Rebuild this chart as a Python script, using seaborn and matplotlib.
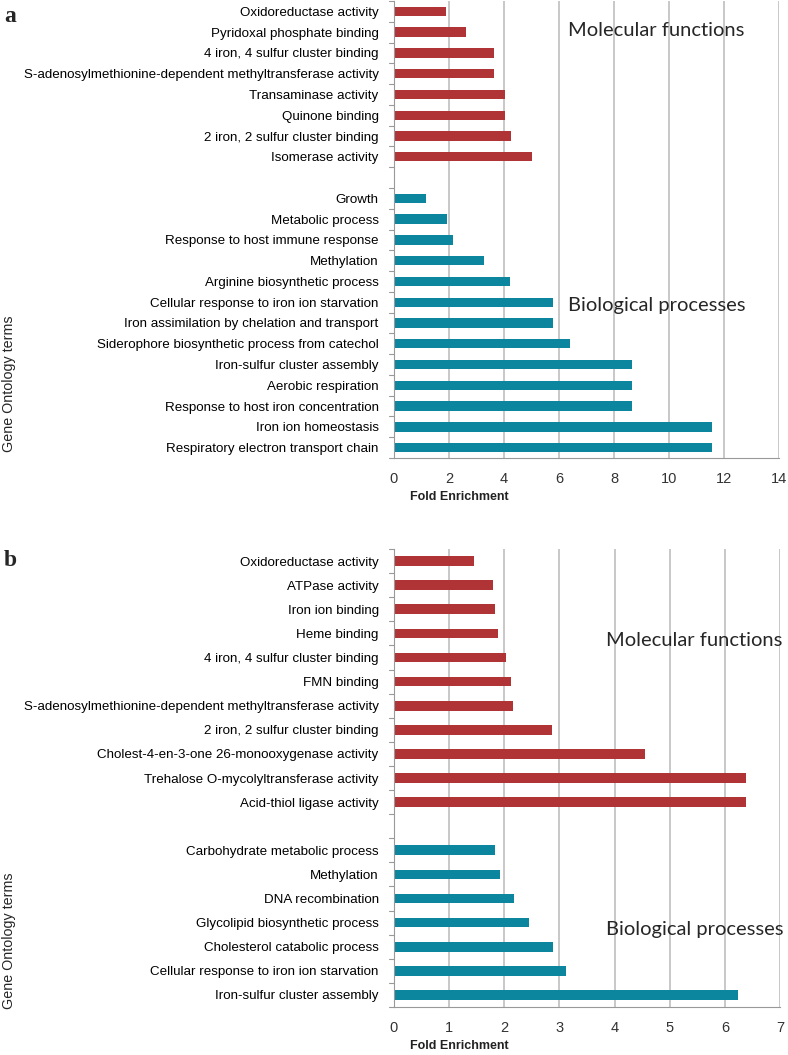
import pandas as pd
import matplotlib
matplotlib.use("Agg")
import matplotlib.pyplot as plt
import seaborn as sns

# Panel a data (top to bottom)
mf_a_terms = ["Oxidoreductase activity", "Pyridoxal phosphate binding",
              "4 iron, 4 sulfur cluster binding",
              "S-adenosylmethionine-dependent methyltransferase activity",
              "Transaminase activity", "Quinone binding",
              "2 iron, 2 sulfur cluster binding", "Isomerase activity"]
mf_a_vals = [1.88, 2.6, 3.62, 3.64, 4.05, 4.05, 4.27, 5.02]
bp_a_terms = ["Growth", "Metabolic process", "Response to host immune response",
              "Methylation", "Arginine biosynthetic process",
              "Cellular response to iron ion starvation",
              "Iron assimilation by chelation and transport",
              "Siderophore biosynthetic process from catechol",
              "Iron-sulfur cluster assembly", "Aerobic respiration",
              "Response to host iron concentration", "Iron ion homeostasis",
              "Respiratory electron transport chain"]
bp_a_vals = [1.15, 1.91, 2.15, 3.28, 4.2, 5.78, 5.78, 6.41, 8.67, 8.67, 8.67, 11.55, 11.55]

# Panel b data (top to bottom)
mf_b_terms = ["Oxidoreductase activity", "ATPase activity", "Iron ion binding",
              "Heme binding", "4 iron, 4 sulfur cluster binding", "FMN binding",
              "S-adenosylmethionine-dependent methyltransferase activity",
              "2 iron, 2 sulfur cluster binding",
              "Cholest-4-en-3-one 26-monooxygenase activity",
              "Trehalose O-mycolyltransferase activity", "Acid-thiol ligase activity"]
mf_b_vals = [1.45, 1.79, 1.84, 1.89, 2.03, 2.13, 2.16, 2.87, 4.56, 6.39, 6.39]
bp_b_terms = ["Carbohydrate metabolic process", "Methylation", "DNA recombination",
              "Glycolipid biosynthetic process", "Cholesterol catabolic process",
              "Cellular response to iron ion starvation", "Iron-sulfur cluster assembly"]
bp_b_vals = [1.83, 1.93, 2.18, 2.44, 2.88, 3.12, 6.23]

RED = "#B03436"
TEAL = "#0C859F"
GRID = "#BFBFBF"

sns.set_style("white")
plt.rcParams["font.family"] = ["Liberation Sans", "DejaVu Sans"]


def make_df(mf_terms, mf_vals, bp_terms, bp_vals):
    # unique keys so repeated term names in one panel stay separate
    rows = []
    for i, (t, v) in enumerate(zip(mf_terms, mf_vals)):
        rows.append({"key": f"mf{i}", "term": t, "value": v, "group": "Molecular functions"})
    for i, (t, v) in enumerate(zip(bp_terms, bp_vals)):
        rows.append({"key": f"bp{i}", "term": t, "value": v, "group": "Biological processes"})
    df = pd.DataFrame(rows)
    order = [f"mf{i}" for i in range(len(mf_terms))] + ["gap"] + \
            [f"bp{i}" for i in range(len(bp_terms))]
    labels = list(mf_terms) + [""] + list(bp_terms)
    return df, order, labels


def draw(ax, df, order, labels, xmax, xstep, width):
    sns.barplot(data=df, y="key", x="value", hue="group", order=order,
                palette={"Molecular functions": RED, "Biological processes": TEAL},
                orient="h", width=width, dodge=False, legend=False, ax=ax,
                saturation=1, edgecolor=None, linewidth=0)
    ax.set_yticks(range(len(order)))
    ax.set_yticklabels(labels, fontsize=9.6)
    ax.set_ylim(len(order) - 0.5, -0.5)
    ax.set_xlim(0, xmax)
    ax.set_xticks(range(0, xmax + 1, xstep))
    ax.tick_params(axis="x", labelsize=10.5, colors="#333333", length=4,
                   color="#999999", pad=6)
    ax.tick_params(axis="y", length=0, pad=11, labelcolor="black")
    # category boundary ticks on the left
    for b in range(len(order) + 1):
        ax.plot([-0.013, 0], [b - 0.5, b - 0.5], transform=ax.get_yaxis_transform(),
                color="#999999", lw=0.8, clip_on=False)
    ax.xaxis.grid(True, color=GRID, lw=1.2)
    ax.set_axisbelow(True)
    for s in ["top", "right"]:
        ax.spines[s].set_visible(False)
    ax.spines["left"].set_color("#999999")
    ax.spines["bottom"].set_color("#999999")
    ax.set_xlabel("")
    ax.set_ylabel("")


fig = plt.figure(figsize=(7.88, 10.55), dpi=100)
H = 1055.0
W = 788.0

ax_a = fig.add_axes([394 / W, 1 - 458 / H, (779 - 394) / W, (458 - 1) / H])
df_a, order_a, labels_a = make_df(mf_a_terms, mf_a_vals, bp_a_terms, bp_a_vals)
draw(ax_a, df_a, order_a, labels_a, 14, 2, 0.45)

ax_b = fig.add_axes([394 / W, 1 - 1007 / H, (780 - 394) / W, (1007 - 549) / H])
df_b, order_b, labels_b = make_df(mf_b_terms, mf_b_vals, bp_b_terms, bp_b_vals)
draw(ax_b, df_b, order_b, labels_b, 7, 1, 0.4)

gfont = ["Lato", "DejaVu Sans"]
fig.text(568 / W, 1 - 31 / H, "Molecular functions", fontsize=14.5, family=gfont, va="center")
fig.text(568 / W, 1 - 305 / H, "Biological processes", fontsize=14.5, family=gfont, va="center")
fig.text(606 / W, 1 - 641 / H, "Molecular functions", fontsize=14.5, family=gfont, va="center")
fig.text(606 / W, 1 - 929 / H, "Biological processes", fontsize=14.5, family=gfont, va="center")

fig.text(459 / W, 1 - 497 / H, "Fold Enrichment", fontsize=9, fontweight="bold",
         ha="center", va="center", color="#222222")
fig.text(459 / W, 1 - 1046 / H, "Fold Enrichment", fontsize=9, fontweight="bold",
         ha="center", va="center", color="#222222")
fig.text(9 / W, 1 - 384 / H, "Gene Ontology terms", fontsize=10.3, rotation=90,
         ha="center", va="center")
fig.text(9 / W, 1 - 941 / H, "Gene Ontology terms", fontsize=10.3, rotation=90,
         ha="center", va="center")

sfont = ["Liberation Serif", "DejaVu Serif"]
fig.text(4 / W, 1 - 16 / H, "a", fontsize=17, fontweight="bold", family=sfont, va="center")
fig.text(4 / W, 1 - 561 / H, "b", fontsize=17, fontweight="bold", family=sfont, va="center")

fig.savefig("out.png", dpi=100)
